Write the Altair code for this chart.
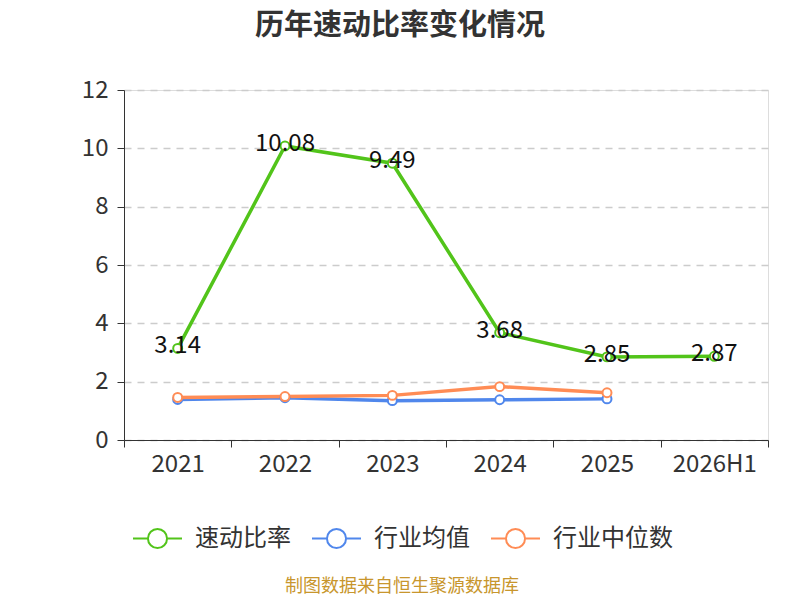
import altair as alt
import pandas as pd

years = ["2021", "2022", "2023", "2024", "2025", "2026H1"]
series_names = ["速动比率", "行业均值", "行业中位数"]
quick_ratio = [3.14, 10.08, 9.49, 3.68, 2.85, 2.87]
industry_mean = [1.39, 1.45, 1.35, 1.38, 1.41]
industry_median = [1.46, 1.49, 1.53, 1.83, 1.62]
colors = ["#52c41a", "#5087ec", "#ff8c55"]
title_text = "历年速动比率变化情况"
source_text = "制图数据来自恒生聚源数据库"

rows = []
for name, vals in zip(series_names, [quick_ratio, industry_mean, industry_median]):
    for y, v in zip(years, vals):
        rows.append({"year": y, "series": name, "value": v})
df = pd.DataFrame(rows)
df_main = df[df["series"] == "速动比率"]

FONT = "Noto Sans CJK SC"

x_enc = alt.X(
    "year:N",
    sort=years,
    scale=alt.Scale(type="band", domain=years, paddingInner=0, paddingOuter=0),
    axis=alt.Axis(
        title=None, labelAngle=0, tickBand="extent", labelFontSize=24,
        labelColor="#333", domainColor="#333", tickColor="#333", tickSize=7,
        labelPadding=5, grid=False, labelFont=FONT,
    ),
)
y_enc = alt.Y(
    "value:Q",
    scale=alt.Scale(domain=[0, 12], nice=False),
    axis=alt.Axis(
        title=None, values=[0, 2, 4, 6, 8, 10, 12], labelFontSize=24,
        labelColor="#333", domainColor="#333", tickColor="#333", tickSize=7,
        labelPadding=9, gridColor="#cccccc", gridDash=[7, 6], gridWidth=1.5,
        labelFont=FONT,
    ),
)
color_enc = alt.Color(
    "series:N",
    scale=alt.Scale(domain=series_names, range=colors),
    sort=series_names,
    legend=alt.Legend(
        title=None, orient="none", direction="horizontal", legendX=8, legendY=423,
        symbolType="M-1,0 L-0.39,0 M0.39,0 L1,0 M0.39,0 A0.39,0.39 0 1 1 -0.39,0 A0.39,0.39 0 1 1 0.39,0 Z",
        symbolSize=2401, symbolStrokeWidth=2, symbolFillColor="#ffffff",
        labelFontSize=24, labelColor="#333", labelFont=FONT, labelOffset=12,
        columnPadding=17, padding=0, gridAlign="none",
    ),
)

base = alt.Chart(df)
lines = base.mark_line(strokeWidth=3.5).encode(x=x_enc, y=y_enc, color=color_enc)
points = base.mark_point(filled=True, fill="white", size=80, strokeWidth=2, opacity=1).encode(
    x=x_enc, y=y_enc, stroke=alt.Stroke("series:N", scale=alt.Scale(domain=series_names, range=colors), legend=None)
)
labels = alt.Chart(df_main).mark_text(
    fontSize=24, color="#111", align="center", baseline="middle", dy=-2, font=FONT
).encode(x=x_enc, y=y_enc, text=alt.Text("value:Q", format=".2f"))

source = alt.Chart(pd.DataFrame({"t": [source_text]})).mark_text(
    fontSize=18, color="#c8962d", align="center", baseline="middle", font=FONT
).encode(text="t:N", x=alt.value(278), y=alt.value(497))

chart = alt.layer(lines, points, labels, source).properties(
    width=644, height=350,
    title=alt.TitleParams(
        title_text, fontSize=29, fontWeight="bold", color="#333", font=FONT,
        anchor="middle", dx=-46, offset=37,
    ),
    autosize=alt.AutoSizeParams(type="none"),
    padding={"left": 116, "top": 82, "right": 24, "bottom": 160},
).configure_view(stroke=None).configure(font=FONT)

chart.save("out.html", embed_options={"renderer": "svg", "actions": False})
